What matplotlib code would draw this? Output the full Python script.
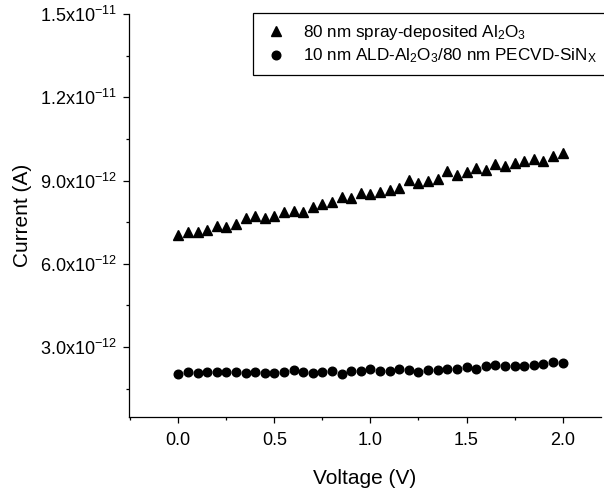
import matplotlib
matplotlib.use("Agg")
import matplotlib.pyplot as plt
from matplotlib.ticker import FixedLocator, MultipleLocator

plt.rcParams['font.family'] = ['Liberation Sans', 'DejaVu Sans']
plt.rcParams['mathtext.fontset'] = 'custom'
plt.rcParams['mathtext.rm'] = 'Liberation Sans'
plt.rcParams['mathtext.it'] = 'Liberation Sans'
plt.rcParams['mathtext.bf'] = 'Liberation Sans'

voltage = [0.00, 0.05, 0.10, 0.15, 0.20, 0.25, 0.30, 0.35, 0.40, 0.45,
           0.50, 0.55, 0.60, 0.65, 0.70, 0.75, 0.80, 0.85, 0.90, 0.95,
           1.00, 1.05, 1.10, 1.15, 1.20, 1.25, 1.30, 1.35, 1.40, 1.45,
           1.50, 1.55, 1.60, 1.65, 1.70, 1.75, 1.80, 1.85, 1.90, 1.95, 2.00]

# current in units of 1e-12 A
spray_al2o3 = [7.04, 7.14, 7.16, 7.21, 7.37, 7.32, 7.43, 7.64, 7.73, 7.64,
               7.72, 7.85, 7.92, 7.85, 8.03, 8.16, 8.22, 8.40, 8.37, 8.55,
               8.52, 8.60, 8.67, 8.74, 9.02, 8.90, 8.97, 9.06, 9.33, 9.20,
               9.29, 9.44, 9.38, 9.58, 9.53, 9.64, 9.71, 9.76, 9.72, 9.88, 10.00]

ald_sinx = [2.04, 2.09, 2.06, 2.10, 2.10, 2.09, 2.09, 2.08, 2.09, 2.08,
            2.05, 2.10, 2.18, 2.11, 2.06, 2.09, 2.14, 2.04, 2.15, 2.12,
            2.20, 2.14, 2.12, 2.20, 2.18, 2.11, 2.18, 2.17, 2.20, 2.22,
            2.29, 2.22, 2.30, 2.34, 2.33, 2.31, 2.31, 2.35, 2.40, 2.45, 2.41]

labels = [r'80 nm spray-deposited Al$_2$O$_3$',
          r'10 nm ALD-Al$_2$O$_3$/80 nm PECVD-SiN$_\mathrm{X}$']

y_ticks = [3.0e-12, 6.0e-12, 9.0e-12, 1.2e-11, 1.5e-11]
y_ticklabels = [r'3.0x10$^{-12}$', r'6.0x10$^{-12}$', r'9.0x10$^{-12}$',
                r'1.2x10$^{-11}$', r'1.5x10$^{-11}$']
x_ticks = [0.0, 0.5, 1.0, 1.5, 2.0]
x_ticklabels = ['0.0', '0.5', '1.0', '1.5', '2.0']

W, H = 604, 492
fig = plt.figure(figsize=(W / 100, H / 100), dpi=100)
left, right, top, bottom = 129, 601, 14, 417
ax = fig.add_axes([left / W, 1 - bottom / H, (right - left) / W, (bottom - top) / H])

y1 = [v * 1e-12 for v in spray_al2o3]
y2 = [v * 1e-12 for v in ald_sinx]
ax.plot(voltage, y1, linestyle='none', marker='^', color='black', markersize=6.8, label=labels[0])
ax.plot(voltage, y2, linestyle='none', marker='o', color='black', markersize=6.2, label=labels[1])

ax.set_xlim(-0.2566, 2.2)
ax.set_ylim(0.48e-12, 1.5e-11)

ax.yaxis.set_major_locator(FixedLocator(y_ticks))
ax.set_yticklabels(y_ticklabels)
ax.yaxis.set_minor_locator(MultipleLocator(1.5e-12))
ax.xaxis.set_major_locator(FixedLocator(x_ticks))
ax.set_xticklabels(x_ticklabels)
ax.xaxis.set_minor_locator(MultipleLocator(0.25))

for s in ['top', 'right']:
    ax.spines[s].set_visible(False)
for s in ['left', 'bottom']:
    ax.spines[s].set_linewidth(0.9)

ax.tick_params(which='major', direction='out', length=4.5, width=0.9, labelsize=13)
ax.tick_params(axis='x', which='major', pad=6)
ax.tick_params(axis='y', which='major', pad=4)
ax.tick_params(which='minor', direction='out', length=2.5, width=0.9)

ax.set_xlabel('Voltage (V)', fontsize=15, labelpad=15)
ax.set_ylabel('Current (A)', fontsize=15, labelpad=6)

leg = fig.legend(handles=ax.get_lines(), labels=labels, loc='upper left',
                 bbox_to_anchor=(253 / W, 1 - 13 / H), borderaxespad=0,
                 fancybox=False, edgecolor='black', framealpha=1,
                 fontsize=12.3, numpoints=1, handlelength=1.5, handletextpad=0.8,
                 borderpad=0.6, labelspacing=0.25)
leg.get_frame().set_linewidth(0.9)

fig.savefig('out.png', dpi=100)
